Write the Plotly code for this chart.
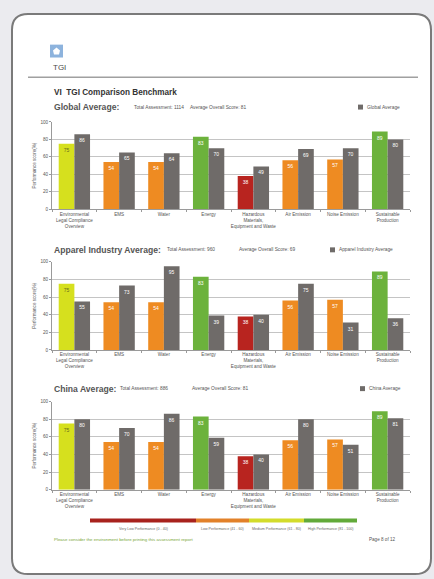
import plotly.graph_objects as go

W, H = 434, 579

def X(px):
    return px / W

def Y(py):
    return 1 - py / H

# ---------------- data ----------------
categories = [
    "Environmental<br>Legal Compliance<br>Overview", "EMS", "Water", "Energy",
    "Hazardous<br>Materials,<br>Equipment and Waste", "Air Emission",
    "Noise Emission", "Sustainable<br>Production",
]
company_scores = [75, 54, 54, 83, 38, 56, 57, 89]
global_avg = [86, 65, 64, 70, 49, 69, 70, 80]
apparel_avg = [55, 73, 95, 39, 40, 75, 31, 36]
china_avg = [80, 70, 86, 59, 40, 80, 51, 81]

panel_names = ["Global Average", "Apparel Industry Average", "China Average"]
panel_totals = [1114, 960, 886]
panel_overall = [81, 69, 81]
panel_values = [global_avg, apparel_avg, china_avg]

y_ticks = [0, 20, 40, 60, 80, 100]
band_labels = ["Very Low Performance (0 - 40)", "Low Performance (41 - 60)",
               "Medium Performance (61 - 80)", "High Performance (81 - 100)"]

# ---------------- style ----------------
RED, ORANGE, YELLOW, GREEN, GRAY = "#b8241f", "#ee8b22", "#d6e01e", "#6cb23c", "#6f6b69"
FONT = "Liberation Sans, Arial, sans-serif"

def band_color(v):
    if v <= 40:
        return RED
    if v <= 60:
        return ORANGE
    if v <= 80:
        return YELLOW
    return GREEN

panel_px = [(121, 209), (262, 351), (403, 492)]
header_py = [106, 250, 390]
legend_sq_px = [358, 330, 360]
total_px = [132, 165, 118]
overall_px = [188, 237, 190]
x_left, x_right = 52, 410

fig = go.Figure()
layout_axes = {}
annotations = []
shapes = []

# page background (rounded rect)
x0, x1, y0, y1, r = 12, 431, 12, 577, 16
rx, ry = r / W, r / H
path = (f"M {X(x0)+rx},{Y(y0)} L {X(x1)-rx},{Y(y0)} Q {X(x1)},{Y(y0)} {X(x1)},{Y(y0)-ry} "
        f"L {X(x1)},{Y(y1)+ry} Q {X(x1)},{Y(y1)} {X(x1)-rx},{Y(y1)} "
        f"L {X(x0)+rx},{Y(y1)} Q {X(x0)},{Y(y1)} {X(x0)},{Y(y1)+ry} "
        f"L {X(x0)},{Y(y0)-ry} Q {X(x0)},{Y(y0)} {X(x0)+rx},{Y(y0)} Z")
shapes.append(dict(type="path", path=path, xref="paper", yref="paper",
                   fillcolor="white", line=dict(color="#7a7a7a", width=2), layer="below"))

# logo
shapes.append(dict(type="rect", xref="paper", yref="paper", x0=X(50), x1=X(63), y0=Y(56), y1=Y(43),
                   fillcolor="#8db3dd", line=dict(width=0)))
shapes.append(dict(type="path", xref="paper", yref="paper",
                   path=f"M {X(53)},{Y(49)} L {X(56.5)},{Y(46)} L {X(60)},{Y(49)} L {X(59)},{Y(53)} L {X(54)},{Y(53)} Z",
                   fillcolor="white", line=dict(width=0)))
annotations.append(dict(text="TGI", x=X(50.5), y=Y(66), xref="paper", yref="paper", xanchor="left",
                        yanchor="middle", showarrow=False, font=dict(size=8, color="#4a4a4a", family=FONT)))
shapes.append(dict(type="line", xref="paper", yref="paper", x0=X(28), x1=X(418), y0=Y(76), y1=Y(76),
                   line=dict(color="#a0a0a0", width=1.5)))
annotations.append(dict(text="<b>VI  TGI Comparison Benchmark</b>", x=X(52), y=Y(91), xref="paper", yref="paper",
                        xanchor="left", yanchor="middle", showarrow=False,
                        font=dict(size=8.2, color="#333333", family=FONT)))

for i, (name, vals) in enumerate(zip(panel_names, panel_values)):
    k = "" if i == 0 else str(i + 1)
    top, bot = panel_px[i]
    fig.add_trace(go.Bar(
        x=categories, y=company_scores, xaxis="x" + k, yaxis="y" + k,
        marker=dict(color=[band_color(v) for v in company_scores], line=dict(width=0)),
        text=company_scores, textposition="inside", insidetextanchor="end",
        textfont=dict(size=5, color=["#6a6a20" if band_color(v) == YELLOW else "white" for v in company_scores]),
        showlegend=False, hoverinfo="skip"))
    fig.add_trace(go.Bar(
        x=categories, y=vals, xaxis="x" + k, yaxis="y" + k,
        marker=dict(color=GRAY, line=dict(width=0)),
        text=vals, textposition="inside", insidetextanchor="end",
        textfont=dict(size=5, color="white"),
        showlegend=False, hoverinfo="skip"))
    layout_axes["xaxis" + k] = dict(
        domain=[X(x_left), X(x_right)], anchor="y" + k, type="category",
        tickfont=dict(size=4.6, color="#555555", family=FONT), tickangle=0,
        showline=True, linecolor="#9a9a9a", linewidth=1, ticks="outside", tickson="boundaries",
        ticklen=2, tickcolor="#9a9a9a", showgrid=False, fixedrange=True)
    layout_axes["yaxis" + k] = dict(
        domain=[Y(bot), Y(top)], anchor="x" + k, range=[0, 100], tickvals=y_ticks,
        tickfont=dict(size=4.6, color="#555555", family=FONT),
        showline=True, linecolor="#9a9a9a", linewidth=1, ticks="outside", ticklen=2,
        tickcolor="#9a9a9a", showgrid=True, gridcolor="#c4c4c4", gridwidth=1,
        zeroline=False, fixedrange=True,
        title=dict(text="Performance score(%)", font=dict(size=4.6, color="#555555", family=FONT), standoff=3))
    # header
    hy = header_py[i]
    annotations.append(dict(text=f"<b>{name}:</b>", x=X(52), y=Y(hy), xref="paper", yref="paper",
                            xanchor="left", yanchor="middle", showarrow=False,
                            font=dict(size=8.6, color="#555555", family=FONT)))
    annotations.append(dict(text=f"Total Assessment: {panel_totals[i]}", x=X(total_px[i]), y=Y(hy),
                            xref="paper", yref="paper", xanchor="left", yanchor="middle", showarrow=False,
                            font=dict(size=4.8, color="#555555", family=FONT)))
    annotations.append(dict(text=f"Average Overall Score: {panel_overall[i]}", x=X(overall_px[i]), y=Y(hy),
                            xref="paper", yref="paper", xanchor="left", yanchor="middle", showarrow=False,
                            font=dict(size=4.8, color="#555555", family=FONT)))
    sx = legend_sq_px[i]
    shapes.append(dict(type="rect", xref="paper", yref="paper", x0=X(sx), x1=X(sx + 5),
                       y0=Y(hy + 2.5), y1=Y(hy - 2.5), fillcolor=GRAY, line=dict(width=0)))
    annotations.append(dict(text=name, x=X(sx + 7), y=Y(hy), xref="paper", yref="paper",
                            xanchor="left", yanchor="middle", showarrow=False,
                            font=dict(size=4.8, color="#555555", family=FONT)))

# performance band legend
band_px = [(90, 196), (196, 249), (249, 304), (304, 357)]
band_cols = ["#a8221d", "#e2812a", "#d3dc2b", "#62aa3a"]
for (a, b), c, lab in zip(band_px, band_cols, band_labels):
    shapes.append(dict(type="rect", xref="paper", yref="paper", x0=X(a), x1=X(b), y0=Y(525), y1=Y(521),
                       fillcolor=c, line=dict(width=0)))
    annotations.append(dict(text=lab, x=X((a + b) / 2), y=Y(532), xref="paper", yref="paper",
                            xanchor="center", yanchor="middle", showarrow=False,
                            font=dict(size=3.6, color="#666666", family=FONT)))

annotations.append(dict(text="Please consider the environment before printing this assessment report",
                        x=X(52), y=Y(542), xref="paper", yref="paper", xanchor="left", yanchor="middle",
                        showarrow=False, font=dict(size=4.4, color="#7aa83a", family=FONT)))
annotations.append(dict(text="Page 8 of 12", x=X(397), y=Y(542), xref="paper", yref="paper",
                        xanchor="right", yanchor="middle", showarrow=False,
                        font=dict(size=4.6, color="#555555", family=FONT)))

fig.update_layout(
    width=W, height=H, margin=dict(l=0, r=0, t=0, b=0),
    paper_bgcolor="#ebebef", plot_bgcolor="white",
    barmode="group", bargap=0.3, bargroupgap=0,
    font=dict(family=FONT),
    shapes=shapes, annotations=annotations, showlegend=False,
    **layout_axes,
)

fig.write_html("out.html", config={"displayModeBar": False},
               post_script="document.body.style.margin='0';document.body.style.overflow='hidden';")
